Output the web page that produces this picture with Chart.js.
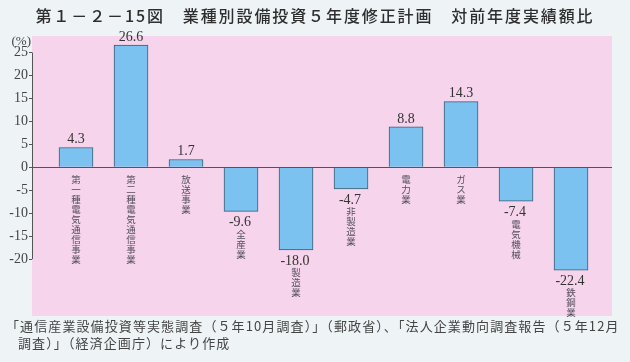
<!DOCTYPE html>
<html>
<head>
<meta charset="utf-8">
<script src="https://cdn.jsdelivr.net/npm/chart.js@4.4.0/dist/chart.umd.min.js"></script>
<style>
  html, body { margin: 0; padding: 0; background: #eef3f6; }
  #wrap { position: relative; width: 630px; height: 362px; }
  #title {
    position: absolute; left: 0; top: 3px; width: 630px; text-align: center;
    font-family: "Noto Sans CJK JP", sans-serif; font-size: 16px; font-weight: 500;
    color: #2e2e2e; letter-spacing: 1.9px;
  }
  #source {
    position: absolute; left: 6px; top: 317px; width: 624px;
    font-family: "Noto Sans CJK JP", sans-serif; font-size: 13px; line-height: 17px;
    color: #444; letter-spacing: 1.1px; white-space: nowrap;
  }
  #source .indent { padding-left: 12px; }
  canvas { position: absolute; left: 0; top: 0; }
</style>
</head>
<body>
<div id="wrap">
  <canvas id="chart" width="630" height="362"></canvas>
  <div id="title">第１－２－15図　業種別設備投資５年度修正計画　対前年度実績額比</div>
  <div id="source">「通信産業設備投資等実態調査（５年10月調査）」（郵政省）、「法人企業動向調査報告（５年12月<br><span class="indent">調査）」（経済企画庁）により作成</span></div>
</div>
<script>
/* data */
const categories = ['第一種電気通信事業', '第二種電気通信事業', '放送事業', '全産業', '製造業',
  '非製造業', '電力業', 'ガス業', '電気機械', '鉄鋼業'];
const values = [4.3, 26.6, 1.7, -9.6, -18.0, -4.7, 8.8, 14.3, -7.4, -22.4];
const yTicks = [25, 20, 15, 10, 5, 0, -5, -10, -15, -20];

const serif = '"Liberation Serif", "DejaVu Serif", serif';
const cjk = '"Noto Sans CJK JP", sans-serif';

/* pink plot background, zero line, y axis line, labels */
const decor = {
  id: 'decor',
  beforeDraw(chart) {
    const { ctx, chartArea: a } = chart;
    ctx.save();
    ctx.fillStyle = '#f5d4ec';
    ctx.fillRect(a.left, a.top, a.right - a.left, a.bottom - a.top);
    ctx.restore();
  },
  afterDatasetsDraw(chart) {
    const { ctx, chartArea: a, scales } = chart;
    const y = scales.y, x = scales.x;
    const y0 = y.getPixelForValue(0);
    ctx.save();
    ctx.strokeStyle = '#555';
    ctx.lineWidth = 1;
    ctx.beginPath();
    ctx.moveTo(a.left, Math.round(y0) + 0.5);
    ctx.lineTo(a.right, Math.round(y0) + 0.5);
    ctx.moveTo(a.left + 0.5, y.getPixelForValue(yTicks[0]));
    ctx.lineTo(a.left + 0.5, y.getPixelForValue(yTicks[yTicks.length - 1]));
    ctx.stroke();

    // (%) unit
    ctx.fillStyle = '#444';
    ctx.font = '13px ' + serif;
    ctx.textAlign = 'right';
    ctx.textBaseline = 'middle';
    ctx.fillText('(%)', a.left - 1, a.top + 6);

    const meta = chart.getDatasetMeta(0);
    meta.data.forEach((bar, i) => {
      const v = values[i];
      const cx = x.getPixelForValue(i);
      ctx.fillStyle = '#333';
      ctx.font = '14px ' + serif;
      ctx.textAlign = 'center';
      let catTop;
      if (v >= 0) {
        ctx.textBaseline = 'bottom';
        ctx.fillText(v.toFixed(1), cx, bar.y - 1);
        catTop = y0 + 7;
      } else {
        ctx.textBaseline = 'top';
        ctx.fillText(v.toFixed(1), cx - 1, bar.y + 4);
        catTop = bar.y + 18;
      }
      // vertical category label
      ctx.fillStyle = '#55505c';
      ctx.font = '9.5px ' + cjk;
      ctx.textBaseline = 'top';
      Array.from(categories[i]).forEach((ch, k) => {
        ctx.fillText(ch, cx, catTop + k * 10);
      });
    });
    ctx.restore();
  }
};

new Chart(document.getElementById('chart'), {
  type: 'bar',
  data: {
    labels: categories,
    datasets: [{
      data: values.map((v, i) => ({ x: i, y: v })),
      backgroundColor: '#7cc2f0',
      borderColor: '#3d5c70',
      borderWidth: 1,
      barThickness: 34
    }]
  },
  options: {
    responsive: false,
    animation: false,
    devicePixelRatio: 1,
    layout: { padding: { top: 36, right: 18, bottom: 46, left: 0 } },
    plugins: {
      legend: { display: false },
      tooltip: { enabled: false }
    },
    scales: {
      x: {
        type: 'linear',
        offset: false,
        min: -0.8,
        max: 9.745,
        display: false
      },
      y: {
        min: -32.4,
        max: 28.6,
        afterBuildTicks(scale) {
          scale.ticks = yTicks.map(v => ({ value: v }));
        },
        afterFit(scale) { scale.width = 32; },
        border: { display: false },
        grid: { drawOnChartArea: false, tickLength: 3, color: '#555' },
        ticks: {
          color: '#444',
          padding: 1,
          font: { family: serif, size: 14 }
        }
      }
    }
  },
  plugins: [decor]
});
</script>
</body>
</html>
